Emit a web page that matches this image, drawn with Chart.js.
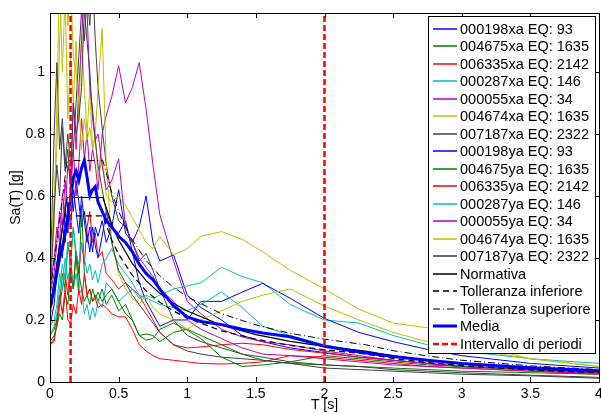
<!DOCTYPE html>
<html>
<head>
<meta charset="utf-8">
<script src="https://cdn.jsdelivr.net/npm/chart.js@4.4.0/dist/chart.umd.min.js"></script>
<style>
  html, body { margin: 0; padding: 0; background: #fff; }
  #wrap { width: 601px; height: 414px; }
</style>
</head>
<body>
<div id="wrap"><canvas id="spettri" width="601" height="414"></canvas></div>
<script>
// Periods of the record spectra [s]
const periods = [0, 0.03, 0.05, 0.07, 0.09, 0.11, 0.13, 0.15, 0.17, 0.19, 0.21, 0.23, 0.25, 0.27, 0.29, 0.31, 0.33, 0.35, 0.38, 0.41, 0.45, 0.5, 0.55, 0.6, 0.65, 0.7, 0.75, 0.8, 0.9, 1.0, 1.1, 1.25, 1.4, 1.55, 1.75, 2.0, 2.25, 2.5, 2.75, 3.0, 3.5, 4.0];

// Sa(T) [g] of each record
const sa000198xa = [0.22, 0.30, 0.38, 0.45, 0.40, 0.55, 0.48, 0.62, 0.55, 0.65, 0.58, 0.50, 0.55, 0.48, 0.42, 0.50, 0.44, 0.40, 0.47, 0.55, 0.50, 0.62, 0.48, 0.45, 0.50, 0.60, 0.45, 0.39, 0.41, 0.28, 0.24, 0.20, 0.15, 0.13, 0.11, 0.095, 0.08, 0.07, 0.06, 0.05, 0.04, 0.03];
const sa004675xa = [0.15, 0.17, 0.20, 0.25, 0.35, 0.30, 0.45, 0.38, 0.50, 0.40, 0.30, 0.57, 0.35, 0.28, 0.30, 0.26, 0.28, 0.26, 0.30, 0.25, 0.28, 0.23, 0.25, 0.20, 0.15, 0.155, 0.15, 0.13, 0.16, 0.17, 0.15, 0.12, 0.09, 0.07, 0.06, 0.055, 0.05, 0.045, 0.04, 0.035, 0.03, 0.025];
const sa006335xa = [0.12, 0.14, 0.18, 0.25, 0.30, 0.35, 0.28, 0.40, 0.30, 0.42, 0.35, 0.45, 0.38, 0.50, 0.55, 0.45, 0.48, 0.40, 0.42, 0.35, 0.33, 0.30, 0.32, 0.30, 0.28, 0.24, 0.20, 0.16, 0.12, 0.11, 0.113, 0.12, 0.125, 0.12, 0.105, 0.093, 0.08, 0.07, 0.06, 0.05, 0.04, 0.03];
const sa000287xa = [0.18, 0.20, 0.25, 0.35, 0.30, 0.40, 0.33, 0.38, 0.30, 0.35, 0.28, 0.30, 0.22, 0.25, 0.20, 0.24, 0.21, 0.26, 0.24, 0.32, 0.30, 0.26, 0.28, 0.30, 0.27, 0.28, 0.27, 0.28, 0.30, 0.31, 0.32, 0.37, 0.34, 0.32, 0.25, 0.20, 0.19, 0.15, 0.12, 0.10, 0.075, 0.06];
const sa000055xa = [0.28, 0.35, 0.45, 0.55, 0.50, 0.65, 0.55, 0.60, 0.75, 0.60, 0.70, 0.85, 0.72, 0.80, 0.68, 0.75, 0.70, 0.62, 0.80, 0.86, 0.92, 1.02, 0.90, 0.95, 1.03, 0.88, 0.70, 0.54, 0.39, 0.26, 0.22, 0.17, 0.145, 0.13, 0.12, 0.10, 0.085, 0.07, 0.06, 0.05, 0.04, 0.03];
const sa004674xa = [0.33, 0.50, 0.90, 1.30, 1.00, 1.25, 0.85, 1.05, 0.90, 1.10, 0.85, 1.12, 0.95, 0.80, 0.95, 0.75, 0.80, 0.65, 0.72, 0.60, 0.58, 0.60, 0.57, 0.53, 0.49, 0.45, 0.43, 0.47, 0.41, 0.43, 0.47, 0.485, 0.46, 0.42, 0.36, 0.30, 0.235, 0.19, 0.175, 0.13, 0.075, 0.05];
const sa007187xa = [0.30, 0.80, 1.03, 0.75, 0.85, 0.70, 0.80, 0.70, 0.75, 0.90, 1.05, 1.20, 1.10, 1.25, 1.15, 1.30, 1.10, 0.95, 0.82, 0.70, 0.60, 0.52, 0.50, 0.45, 0.39, 0.415, 0.36, 0.30, 0.20, 0.15, 0.13, 0.11, 0.09, 0.08, 0.065, 0.055, 0.05, 0.04, 0.035, 0.03, 0.022, 0.015];
const sa000198ya = [0.18, 0.25, 0.35, 0.42, 0.50, 0.45, 0.58, 0.50, 0.62, 0.55, 0.48, 0.60, 0.52, 0.45, 0.50, 0.42, 0.50, 0.47, 0.52, 0.45, 0.50, 0.48, 0.52, 0.42, 0.32, 0.26, 0.22, 0.18, 0.20, 0.20, 0.26, 0.26, 0.29, 0.318, 0.27, 0.205, 0.16, 0.13, 0.105, 0.085, 0.06, 0.045];
const sa004675ya = [0.13, 0.15, 0.18, 0.22, 0.20, 0.28, 0.25, 0.35, 0.30, 0.42, 0.35, 0.30, 0.26, 0.28, 0.25, 0.30, 0.27, 0.29, 0.26, 0.28, 0.30, 0.26, 0.22, 0.20, 0.15, 0.135, 0.14, 0.17, 0.19, 0.167, 0.14, 0.08, 0.05, 0.055, 0.065, 0.085, 0.075, 0.065, 0.055, 0.05, 0.04, 0.035];
const sa006335ya = [0.12, 0.13, 0.20, 0.28, 0.22, 0.30, 0.20, 0.19, 0.25, 0.22, 0.30, 0.25, 0.35, 0.28, 0.30, 0.26, 0.27, 0.24, 0.25, 0.24, 0.22, 0.21, 0.21, 0.17, 0.12, 0.10, 0.085, 0.075, 0.07, 0.065, 0.06, 0.058, 0.06, 0.065, 0.085, 0.08, 0.07, 0.06, 0.05, 0.045, 0.035, 0.025];
const sa000287ya = [0.15, 0.18, 0.22, 0.30, 0.38, 0.33, 0.45, 0.40, 0.50, 0.42, 0.38, 0.45, 0.40, 0.35, 0.38, 0.33, 0.36, 0.32, 0.38, 0.40, 0.43, 0.38, 0.35, 0.32, 0.28, 0.27, 0.26, 0.25, 0.24, 0.23, 0.25, 0.29, 0.24, 0.18, 0.15, 0.12, 0.10, 0.085, 0.07, 0.06, 0.045, 0.035];
const sa000055ya = [0.30, 0.40, 0.50, 0.45, 0.60, 0.55, 0.70, 0.65, 0.90, 0.75, 0.95, 1.10, 1.30, 1.20, 0.95, 0.88, 0.78, 0.80, 0.70, 0.62, 0.65, 0.72, 0.50, 0.45, 0.40, 0.37, 0.34, 0.30, 0.26, 0.20, 0.17, 0.14, 0.11, 0.09, 0.085, 0.075, 0.065, 0.055, 0.05, 0.045, 0.035, 0.028];
const sa004674ya = [0.30, 0.60, 0.75, 1.10, 1.30, 1.40, 1.15, 1.30, 1.05, 1.00, 0.90, 0.75, 0.85, 0.78, 0.82, 0.75, 0.80, 0.95, 1.14, 0.70, 0.45, 0.35, 0.30, 0.27, 0.25, 0.28, 0.24, 0.22, 0.20, 0.17, 0.20, 0.23, 0.26, 0.28, 0.30, 0.245, 0.20, 0.16, 0.13, 0.11, 0.075, 0.05];
const sa007187ya = [0.25, 0.55, 0.70, 0.60, 0.82, 0.68, 0.75, 0.62, 0.90, 0.80, 0.85, 0.95, 1.20, 1.10, 1.00, 0.85, 0.78, 0.70, 0.62, 0.55, 0.45, 0.36, 0.32, 0.28, 0.25, 0.22, 0.19, 0.16, 0.12, 0.10, 0.09, 0.08, 0.075, 0.07, 0.06, 0.045, 0.04, 0.035, 0.03, 0.025, 0.02, 0.012];

// Mean spectrum of the records
const saMedia = [0.24, 0.30, 0.35, 0.40, 0.43, 0.48, 0.53, 0.59, 0.66, 0.68, 0.65, 0.69, 0.715, 0.66, 0.60, 0.62, 0.63, 0.58, 0.55, 0.52, 0.50, 0.47, 0.45, 0.42, 0.38, 0.35, 0.33, 0.30, 0.245, 0.21, 0.195, 0.185, 0.17, 0.158, 0.146, 0.115, 0.097, 0.082, 0.07, 0.06, 0.046, 0.036];

// Code spectrum and tolerance band
const normPeriods = [0, 0.125, 0.385, 0.45, 0.5, 0.6, 0.7, 0.8, 0.9, 1.0, 1.25, 1.5, 1.75, 2.0, 2.3, 2.5, 2.75, 3.0, 3.5, 4.0];
const saNormativa = [0.238, 0.595, 0.595, 0.509, 0.458, 0.382, 0.327, 0.286, 0.254, 0.229, 0.183, 0.153, 0.131, 0.115, 0.0996, 0.0843, 0.0697, 0.0586, 0.043, 0.033];
const saTollInf = [0.214, 0.536, 0.536, 0.458, 0.412, 0.344, 0.294, 0.257, 0.229, 0.206, 0.165, 0.138, 0.118, 0.104, 0.09, 0.076, 0.063, 0.053, 0.039, 0.030];
const saTollSup = [0.286, 0.714, 0.714, 0.611, 0.55, 0.458, 0.392, 0.343, 0.305, 0.275, 0.22, 0.184, 0.157, 0.138, 0.12, 0.101, 0.084, 0.070, 0.052, 0.040];

// Period interval limits [s]
const intervalPeriods = [0.15, 2.0];

// Axes
const xTicks = [0, 0.5, 1, 1.5, 2, 2.5, 3, 3.5, 4];
const xTickLabels = ['0', '0.5', '1', '1.5', '2', '2.5', '3', '3.5', '4'];
const yTicks = [0, 0.2, 0.4, 0.6, 0.8, 1];
const yTickLabels = ['0', '0.2', '0.4', '0.6', '0.8', '1'];
const yMax = 1.19;

const FONT = '"Liberation Sans", Arial, Helvetica, sans-serif';

function toPoints(xs, ys) {
    return xs.map((x, i) => ({ x: x, y: ys[i] }));
}

var records = [
    { label: '000198xa EQ: 93', color: '#0000ff', values: sa000198xa },
    { label: '004675xa EQ: 1635', color: '#008000', values: sa004675xa },
    { label: '006335xa EQ: 2142', color: '#ff0000', values: sa006335xa },
    { label: '000287xa EQ: 146', color: '#00bfbf', values: sa000287xa },
    { label: '000055xa EQ: 34', color: '#bf00bf', values: sa000055xa },
    { label: '004674xa EQ: 1635', color: '#bfbf00', values: sa004674xa },
    { label: '007187xa EQ: 2322', color: '#404040', values: sa007187xa },
    { label: '000198ya EQ: 93', color: '#0000ff', values: sa000198ya },
    { label: '004675ya EQ: 1635', color: '#008000', values: sa004675ya },
    { label: '006335ya EQ: 2142', color: '#ff0000', values: sa006335ya },
    { label: '000287ya EQ: 146', color: '#00bfbf', values: sa000287ya },
    { label: '000055ya EQ: 34', color: '#bf00bf', values: sa000055ya },
    { label: '004674ya EQ: 1635', color: '#bfbf00', values: sa004674ya },
    { label: '007187ya EQ: 2322', color: '#404040', values: sa007187ya }
];

var datasets = records.map(r => ({
    label: r.label,
    data: toPoints(periods, r.values),
    borderColor: r.color,
    borderWidth: 1,
    legendWidth: 1.5
}));

datasets.push({ label: 'Normativa', data: toPoints(normPeriods, saNormativa), borderColor: '#000000', borderWidth: 1.2, legendWidth: 1.5 });
datasets.push({ label: 'Tolleranza inferiore', data: toPoints(normPeriods, saTollInf), borderColor: '#000000', borderWidth: 1.2, legendWidth: 1.5, borderDash: [6, 4] });
datasets.push({ label: 'Tolleranza superiore', data: toPoints(normPeriods, saTollSup), borderColor: '#000000', borderWidth: 1, legendWidth: 1.2, borderDash: [7, 3, 1, 3] });
datasets.push({ label: 'Media', data: toPoints(periods, saMedia), borderColor: '#0000ff', borderWidth: 3, legendWidth: 3 });
intervalPeriods.forEach((t, i) => {
    datasets.push({
        label: 'Intervallo di periodi',
        hideInLegend: i > 0,
        data: [{ x: t, y: 0 }, { x: t, y: yMax }],
        borderColor: '#ff0000',
        borderWidth: 2.5,
        legendWidth: 2.5,
        borderDash: [6, 3]
    });
});

// later datasets drawn on top, like the original
datasets.forEach((d, i) => {
    d.order = -i;
    d.pointRadius = 0;
    d.fill = false;
    d.tension = 0;
    d.clip = 0;
});

// MATLAB-like box with inward ticks
const axesBox = {
    id: 'axesBox',
    afterDatasetsDraw(chart) {
        const ctx = chart.ctx;
        const a = chart.chartArea;
        const xs = chart.scales.x, ys = chart.scales.y;
        const tl = 5;
        ctx.save();
        ctx.strokeStyle = '#000';
        ctx.lineWidth = 1;
        ctx.beginPath();
        ctx.rect(Math.round(a.left) + 0.5, Math.round(a.top) + 0.5, Math.round(a.right - a.left), Math.round(a.bottom - a.top));
        xTicks.forEach(v => {
            const px = Math.round(xs.getPixelForValue(v)) + 0.5;
            ctx.moveTo(px, a.bottom); ctx.lineTo(px, a.bottom - tl);
            ctx.moveTo(px, a.top); ctx.lineTo(px, a.top + tl);
        });
        yTicks.forEach(v => {
            const py = Math.round(ys.getPixelForValue(v)) + 0.5;
            ctx.moveTo(a.left, py); ctx.lineTo(a.left + tl, py);
            ctx.moveTo(a.right, py); ctx.lineTo(a.right - tl, py);
        });
        ctx.stroke();
        ctx.restore();
    }
};

// Legend box inside the plot, top right
const legendBox = {
    id: 'legendBox',
    afterDraw(chart) {
        const ctx = chart.ctx;
        const items = chart.data.datasets.filter(d => !d.hideInLegend);
        const left = 428, top = 16, width = 167, height = 337;
        const rowH = 17.5, firstRow = 28.5;
        ctx.save();
        ctx.fillStyle = '#fff';
        ctx.fillRect(left, top, width, height);
        ctx.strokeStyle = '#000';
        ctx.lineWidth = 1;
        ctx.strokeRect(left + 0.5, top + 0.5, width, height);
        ctx.font = '14.5px ' + FONT;
        ctx.textBaseline = 'middle';
        items.forEach((d, i) => {
            const y = Math.round(firstRow + i * rowH);
            ctx.strokeStyle = d.borderColor;
            ctx.lineWidth = d.legendWidth;
            ctx.setLineDash(d.borderDash || []);
            ctx.beginPath();
            ctx.moveTo(433, y);
            ctx.lineTo(457, y);
            ctx.stroke();
            ctx.setLineDash([]);
            ctx.fillStyle = '#000';
            ctx.fillText(d.label, 460, y + 1);
        });
        ctx.restore();
    }
};

var ctx = document.getElementById('spettri').getContext('2d');
new Chart(ctx, {
    type: 'line',
    data: { datasets: datasets },
    plugins: [axesBox, legendBox],
    options: {
        responsive: false,
        animation: false,
        events: [],
        layout: { padding: { top: 13, right: 2, left: 0, bottom: 0 } },
        plugins: {
            legend: { display: false },
            tooltip: { enabled: false }
        },
        scales: {
            x: {
                type: 'linear',
                min: 0,
                max: 4,
                grid: { display: false, drawTicks: false },
                border: { display: false },
                afterBuildTicks: s => { s.ticks = xTicks.map(v => ({ value: v })); },
                afterFit: s => { s.height = 32; s.paddingLeft = 0; s.paddingRight = 0; },
                ticks: {
                    autoSkip: false,
                    maxRotation: 0,
                    padding: 4,
                    color: '#000',
                    font: { family: FONT, size: 14 },
                    callback: (v) => xTickLabels[xTicks.indexOf(v)]
                },
                title: {
                    display: true,
                    text: 'T [s]',
                    color: '#000',
                    font: { family: FONT, size: 14 },
                    padding: { top: 0, bottom: 0 }
                }
            },
            y: {
                type: 'linear',
                min: 0,
                max: yMax,
                grid: { display: false, drawTicks: false },
                border: { display: false },
                afterBuildTicks: s => { s.ticks = yTicks.map(v => ({ value: v })); },
                afterFit: s => { s.width = 50; s.paddingTop = 0; s.paddingBottom = 0; },
                ticks: {
                    autoSkip: false,
                    padding: 5,
                    color: '#000',
                    font: { family: FONT, size: 14 },
                    callback: (v) => yTickLabels[yTicks.indexOf(v)]
                },
                title: {
                    display: true,
                    text: 'Sa(T) [g]',
                    color: '#000',
                    font: { family: FONT, size: 14 },
                    padding: { top: 8, bottom: 0 }
                }
            }
        }
    }
});
</script>
</body>
</html>
